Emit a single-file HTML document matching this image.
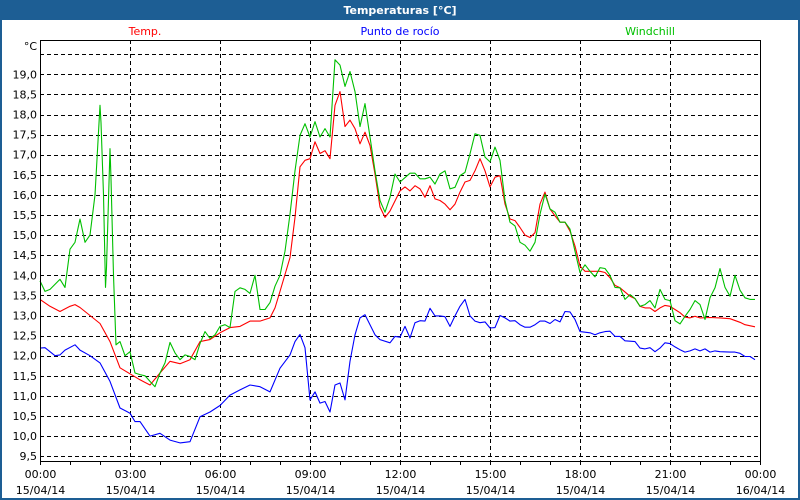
<!DOCTYPE html>
<html><head><meta charset="utf-8"><style>
body{margin:0;background:#fff;}
svg{display:block;font-family:Tahoma,"DejaVu Sans","Liberation Sans",sans-serif;}
</style></head><body>
<svg id="chart" width="800" height="500" viewBox="0 0 800 500">
<rect x="0" y="0" width="800" height="500" fill="#1d5e94"/>
<rect x="2" y="20" width="796" height="478" fill="#ffffff"/>
<text x="400" y="14" text-anchor="middle" fill="#fff" font-weight="bold" font-size="11">Temperaturas [°C]</text>
<text x="145" y="35" text-anchor="middle" fill="#ff0000" font-size="11">Temp.</text>
<text x="400" y="35" text-anchor="middle" fill="#0000ff" font-size="11">Punto de rocío</text>
<text x="650" y="35" text-anchor="middle" fill="#00c000" font-size="11">Windchill</text>
<text x="37" y="50" text-anchor="end" font-size="11" fill="#000">°C</text>
<g id="grid"></g>
<g id="series"></g>
<g id="axes"></g>
</svg>
<script>
const yTicks=[9.5,10,10.5,11,11.5,12,12.5,13,13.5,14,14.5,15,15.5,16,16.5,17,17.5,18,18.5,19];
const xTickHours=[0,3,6,9,12,15,18,21,24];
const xTickTimes=["00:00","03:00","06:00","09:00","12:00","15:00","18:00","21:00","00:00"];
const xTickDates=["15/04/14","15/04/14","15/04/14","15/04/14","15/04/14","15/04/14","15/04/14","15/04/14","16/04/14"];
const tempTimes=[0,20,40,60,70,80,100,120,140,160,180,200,220,240,260,280,300,320,340,360,380,400,420,440,460,470,480,500,510,520,530,540,550,560,570,580,590,600,610,620,630,640,650,660,670,680,690,700,720,730,740,750,760,770,780,790,800,810,820,830,840,850,860,870,880,890,900,910,920,930,940,950,960,970,980,990,1000,1010,1020,1030,1040,1050,1060,1070,1080,1090,1100,1120,1130,1140,1150,1160,1180,1190,1200,1210,1220,1230,1240,1250,1260,1270,1280,1290,1300,1310,1320,1340,1360,1370,1380,1400,1410,1430];
const tempValues=[13.4,13.23,13.1,13.23,13.27,13.2,13.0,12.8,12.35,11.7,11.55,11.4,11.27,11.57,11.86,11.8,11.9,12.35,12.4,12.57,12.7,12.73,12.86,12.86,12.94,13.19,13.6,14.44,15.44,16.7,16.86,16.9,17.32,17.03,17.1,16.9,18.23,18.57,17.7,17.86,17.65,17.27,17.56,17.23,16.52,15.7,15.44,15.6,16.1,16.2,16.1,16.23,16.15,15.94,16.23,15.9,15.86,15.77,15.63,15.77,16.07,16.32,16.36,16.6,16.9,16.6,16.2,16.44,16.48,15.77,15.4,15.36,15.19,15.0,14.94,15.06,15.77,16.07,15.65,15.48,15.32,15.32,15.1,14.73,14.23,14.1,14.1,14.1,14.07,13.94,13.75,13.69,13.48,13.42,13.23,13.19,13.19,13.1,13.19,13.25,13.23,13.15,13.07,12.96,12.94,12.98,12.94,12.95,12.94,12.93,12.92,12.83,12.77,12.72];
const windTimes=[0,10,20,40,50,60,70,80,90,100,110,120,122,127,131,133,140,142,147,152,160,170,180,190,200,210,220,230,240,250,260,270,280,290,300,310,320,330,340,350,360,370,380,390,400,410,420,430,440,450,460,470,480,490,500,510,520,530,540,550,560,570,580,590,600,610,620,630,640,650,660,670,680,690,700,710,720,740,750,760,770,780,790,800,810,820,830,840,850,860,870,880,890,900,910,920,930,940,950,960,970,980,990,1000,1010,1020,1030,1040,1050,1060,1070,1080,1090,1100,1110,1120,1130,1140,1150,1160,1170,1180,1190,1200,1210,1220,1230,1240,1250,1260,1270,1280,1290,1300,1310,1320,1330,1340,1350,1360,1370,1380,1390,1400,1410,1420,1430];
const windValues=[13.86,13.6,13.65,13.9,13.7,14.65,14.82,15.4,14.82,15.0,16.0,18.23,17.8,16.0,13.7,14.2,17.15,16.4,14.0,12.27,12.35,12.0,12.1,11.57,11.53,11.5,11.36,11.23,11.57,11.82,12.33,12.07,11.9,12.02,11.98,11.9,12.3,12.6,12.43,12.52,12.73,12.77,12.7,13.6,13.69,13.65,13.55,14.0,13.15,13.15,13.32,13.73,14.0,14.6,15.52,16.6,17.48,17.77,17.44,17.82,17.44,17.65,17.44,19.36,19.23,18.7,19.07,18.57,17.7,18.27,17.44,16.6,15.86,15.57,15.94,16.52,16.32,16.54,16.54,16.4,16.4,16.44,16.27,16.52,16.6,16.15,16.19,16.48,16.56,17.02,17.52,17.48,16.94,16.82,17.19,16.86,15.86,15.32,15.23,14.82,14.75,14.6,14.82,15.52,16.02,15.65,15.57,15.32,15.32,15.15,14.6,14.07,14.26,14.1,13.96,14.19,14.17,14.0,13.7,13.69,13.4,13.52,13.42,13.23,13.27,13.37,13.19,13.65,13.4,13.37,12.87,12.79,12.98,13.15,13.37,13.27,12.9,13.44,13.69,14.17,13.7,13.48,14.0,13.63,13.44,13.4,13.4];
const dewTimes=[0,10,20,30,40,50,70,80,100,120,140,160,180,190,200,220,240,260,280,300,320,340,360,380,400,420,440,460,480,500,510,520,530,540,550,560,570,580,590,600,610,620,630,640,650,660,670,680,700,710,720,730,740,750,760,770,780,790,800,810,820,830,840,850,860,870,880,890,900,910,920,930,940,950,960,970,980,990,1000,1010,1020,1030,1040,1050,1060,1070,1080,1100,1110,1120,1130,1140,1150,1160,1170,1190,1200,1210,1220,1230,1240,1250,1260,1270,1280,1290,1300,1310,1320,1330,1340,1350,1360,1380,1390,1400,1410,1420,1430];
const dewValues=[12.19,12.2,12.1,12.0,12.02,12.14,12.27,12.14,12.0,11.82,11.36,10.7,10.57,10.36,10.36,10.0,10.07,9.9,9.83,9.86,10.48,10.6,10.76,11.02,11.15,11.27,11.23,11.1,11.69,12.02,12.35,12.53,12.2,10.9,11.1,10.82,10.86,10.6,11.27,11.32,10.9,11.86,12.52,12.94,13.02,12.77,12.52,12.4,12.32,12.48,12.46,12.73,12.44,12.82,12.87,12.86,13.18,12.99,12.99,12.97,12.73,12.99,13.23,13.4,12.99,12.86,12.82,12.84,12.69,12.7,13.0,12.94,12.86,12.87,12.77,12.71,12.71,12.77,12.86,12.86,12.8,12.9,12.84,13.1,13.09,12.9,12.6,12.57,12.52,12.57,12.6,12.61,12.48,12.48,12.37,12.35,12.19,12.17,12.2,12.1,12.19,12.32,12.3,12.22,12.15,12.09,12.12,12.17,12.12,12.17,12.09,12.12,12.1,12.09,12.09,12.06,11.98,11.98,11.9];

const NS="http://www.w3.org/2000/svg";
const X0=40,X1=760,Y0=40,Y1=461;
function xScale(min){return X0+min*(X1-X0)/1440;}
function yScale(v){return 74.3+(19-v)*40.2;}
function mk(tag,attrs,parent){const e=document.createElementNS(NS,tag);for(const k in attrs)e.setAttribute(k,attrs[k]);parent.appendChild(e);return e;}
const grid=document.getElementById('grid'),axes=document.getElementById('axes'),series=document.getElementById('series');
[...yTicks,19.5].forEach(v=>{
  const y=Math.round(yScale(v))+0.5;
  const l=mk('line',{x1:X0,x2:X1,y1:y,y2:y,stroke:'#000','stroke-width':1,'stroke-dasharray':'4,3'},grid);
  
  
});
yTicks.forEach(v=>{
  const t=mk('text',{x:37,y:yScale(v)+4,'text-anchor':'end','font-size':11,fill:'#000'},axes);
  t.textContent=v.toFixed(1).replace('.',',');
  
  
});
xTickHours.forEach((h,i)=>{
  const x=Math.round(xScale(h*60))+0.5;
  if(h>0&&h<24){
    const l=mk('line',{x1:x,x2:x,y1:Y0,y2:Y1,stroke:'#000','stroke-width':1,'stroke-dasharray':'4,3'},grid);
    
    
  }
  const t1=mk('text',{x:x,y:478,'text-anchor':'middle','font-size':11,fill:'#000'},axes);
  t1.textContent=xTickTimes[i];
  
  
  const t2=mk('text',{x:x,y:494,'text-anchor':'middle','font-size':11,fill:'#000'},axes);
  t2.textContent=xTickDates[i];
  
  
});
for(let h=0;h<=24;h++){
  const x=Math.round(xScale(h*60))+0.5;
  const l=mk('line',{x1:x,x2:x,y1:Y1,y2:Y1+4,stroke:'#000'},axes);
  
  
}
const frame=mk('rect',{x:X0+0.5,y:Y0+0.5,width:X1-X0,height:Y1-Y0,fill:'none',stroke:'#000','stroke-width':1},axes);


function drawLine(times,vals,color,name){
  const d=times.map((t,i)=>(i?'L':'M')+xScale(t).toFixed(1)+','+yScale(vals[i]).toFixed(1)).join(' ');
  const p=mk('path',{d:d,fill:'none',stroke:color,'stroke-width':1.1,'stroke-linejoin':'round'},series);
  
  
}
drawLine(dewTimes,dewValues,'#0000ff','dew-point-line');
drawLine(tempTimes,tempValues,'#ff0000','temp-line');
drawLine(windTimes,windValues,'#00c000','windchill-line');
</script>
</body></html>
